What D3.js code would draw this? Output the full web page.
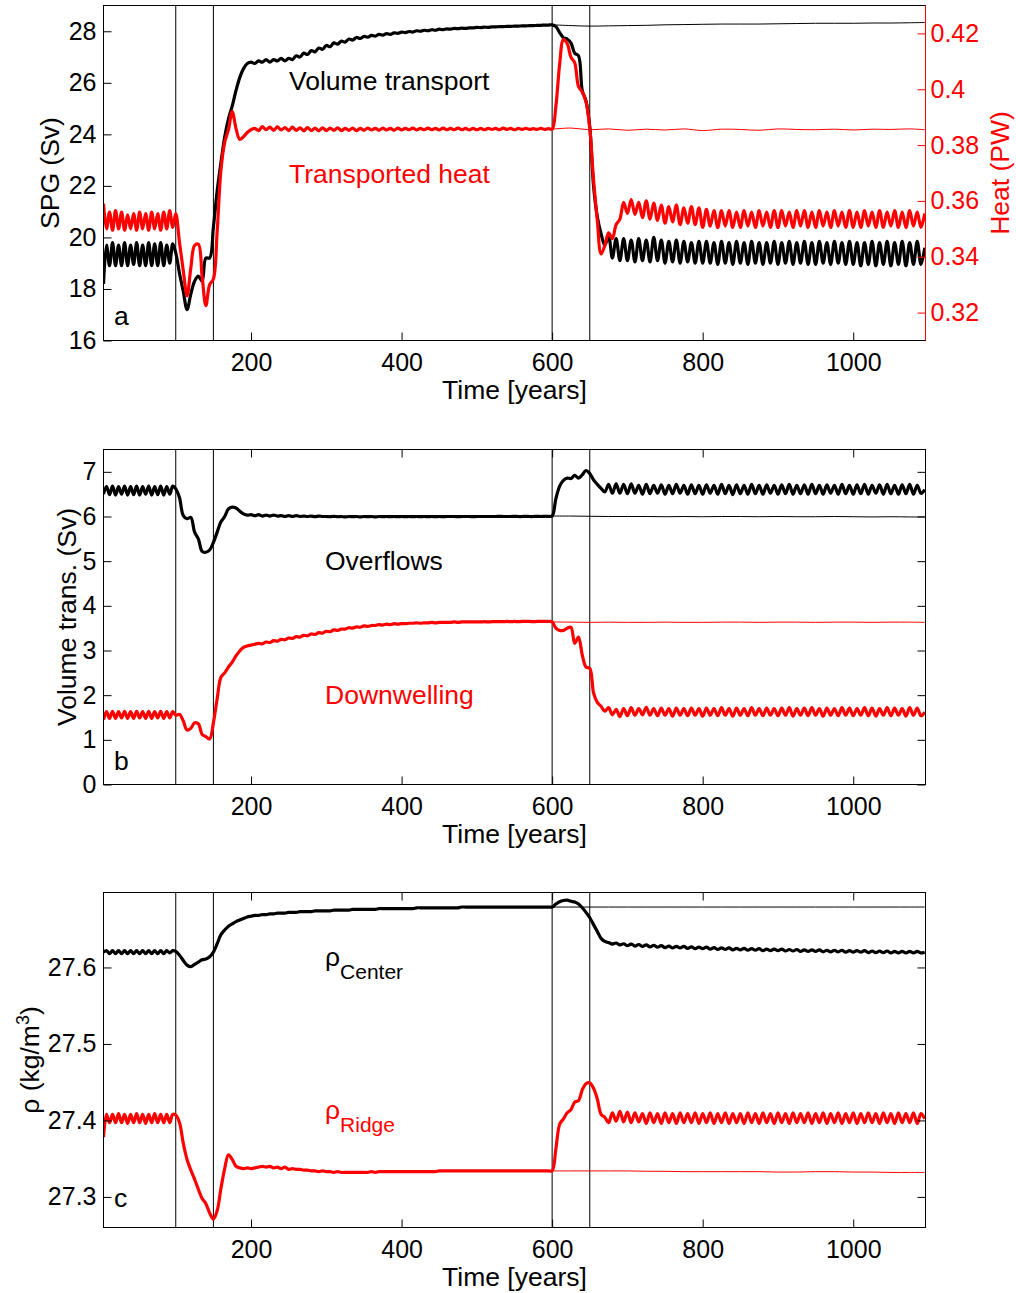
<!DOCTYPE html>
<html><head><meta charset="utf-8">
<script src="https://cdn.jsdelivr.net/npm/d3@7"></script>
<style>body{margin:0;background:#fff}</style>
</head><body><svg id="c" width="1016" height="1293"></svg>
<script>
// ---------- time axis ----------
const yearsEarly = d3.range(4, 100, 4);      // 24 samples
const yearsLate = d3.range(100, 1100, 5);    // 200 samples
const years = yearsEarly.concat(yearsLate);
const ctrlYears = [600,625,650,675,700,725,750,775,800,825,850,875,900,925,950,975,1000,1025,1050,1075,1095];
const eventYears = [100, 150, 600, 650];
const xTicks = [200, 400, 600, 800, 1000];

// ---------- panel a : SPG volume transport (Sv) ----------
const spgEarly = [18.2,19.7,18.9,19.8,18.9,19.7,18.9,19.8,18.9,19.7,18.95,19.8,18.9,19.7,18.9,19.8,18.9,19.75,18.9,19.8,18.9,19.7,19.0,19.75];
const spgLate = [
19.4,18.6,17.9,17.2,17.8,18.3,18.5,18.3,19.2,19.2,20.4,21.8,22.9,23.9,24.6,25.1,25.7,26.2,26.55,26.75,
26.8,26.75,26.85,26.8,26.9,26.8,26.9,26.85,26.95,26.85,26.95,26.9,27.05,27.0,27.15,27.1,27.25,27.2,27.35,27.3,
27.45,27.4,27.55,27.5,27.62,27.58,27.7,27.66,27.76,27.72,27.8,27.77,27.84,27.81,27.88,27.85,27.91,27.88,27.94,27.92,
27.97,27.95,27.99,27.97,28.02,28.0,28.04,28.02,28.06,28.04,28.08,28.06,28.09,28.08,28.11,28.1,28.12,28.11,28.13,28.13,
28.15,28.14,28.16,28.15,28.17,28.17,28.18,28.18,28.19,28.19,28.2,28.2,28.21,28.21,28.22,28.22,28.23,28.23,28.24,28.24,
28.25,28.18,27.95,27.75,27.7,27.55,27.15,27.05,25.7,25.3,24.3,22.0,20.8,20.15,19.7,20.05,19.2,19.95,19.1,19.95,
19.1,19.9,19.05,19.95,19.1,19.9,19.05,20.0,19.1,19.9,19.0,19.85,19.05,19.9,19.0,19.85,19.05,19.8,19.0,19.85,
19.0,19.85,19.0,19.8,18.95,19.85,19.0,19.8,18.95,19.85,19.0,19.8,18.95,19.85,19.0,19.8,18.95,19.8,19.0,19.85,
18.95,19.8,19.0,19.85,18.95,19.8,19.0,19.85,18.95,19.8,18.95,19.85,19.0,19.8,18.95,19.85,19.0,19.8,18.95,19.85,
18.95,19.8,18.9,19.8,18.95,19.85,18.9,19.8,18.95,19.85,18.9,19.8,18.95,19.85,18.9,19.8,18.95,19.85,18.95,19.6];
const spgCtrl = [28.25,28.22,28.2,28.21,28.22,28.23,28.25,28.26,28.27,28.28,28.28,28.28,28.29,28.3,28.31,28.31,28.31,28.32,28.32,28.33,28.34];
const spgTicks = [16,18,20,22,24,26,28];

// ---------- panel a : transported heat (PW) ----------
const heatEarly = [0.359,0.350,0.356,0.3495,0.3565,0.350,0.356,0.3495,0.355,0.350,0.3555,0.3495,0.356,0.350,0.3555,0.3495,0.356,0.350,0.3555,0.3495,0.356,0.350,0.3565,0.3505];
const heatLate = [
0.3555,0.345,0.335,0.326,0.336,0.344,0.3445,0.333,0.3225,0.330,0.332,0.349,0.371,0.381,0.3855,0.392,0.386,0.382,0.383,0.3845,
0.3855,0.386,0.3852,0.3866,0.3855,0.3864,0.3853,0.3865,0.3854,0.3863,0.3852,0.3864,0.3853,0.3862,0.3851,0.3863,0.3852,0.3861,0.3851,0.3862,
0.3852,0.3861,0.3853,0.3862,0.3852,0.386,0.3853,0.3861,0.3852,0.386,0.3853,0.3861,0.3854,0.386,0.3853,0.3861,0.3854,0.386,0.3853,0.3861,
0.3854,0.386,0.3855,0.3861,0.3854,0.386,0.3855,0.3861,0.3855,0.386,0.3854,0.3861,0.3855,0.386,0.3855,0.3861,0.3855,0.386,0.3854,0.386,
0.3855,0.386,0.3855,0.386,0.3856,0.386,0.3855,0.3861,0.3856,0.386,0.3855,0.386,0.3856,0.386,0.3856,0.3859,0.3856,0.386,0.3856,0.3859,
0.3857,0.394,0.409,0.4178,0.4164,0.4115,0.4095,0.401,0.399,0.3955,0.386,0.3676,0.353,0.341,0.344,0.3486,0.3465,0.3515,0.3535,0.3595,
0.3555,0.3605,0.3552,0.3595,0.354,0.360,0.3535,0.3592,0.353,0.3585,0.352,0.358,0.3525,0.3585,0.3515,0.3575,0.352,0.358,0.3515,0.3575,
0.3505,0.357,0.351,0.3565,0.3505,0.3565,0.351,0.3565,0.3505,0.356,0.3505,0.3565,0.351,0.356,0.3505,0.3565,0.351,0.356,0.3505,0.3565,
0.3505,0.3565,0.351,0.356,0.3505,0.3565,0.351,0.3565,0.3505,0.356,0.3505,0.3565,0.351,0.356,0.3505,0.3565,0.351,0.356,0.3505,0.3565,
0.3505,0.356,0.3505,0.3565,0.351,0.356,0.3505,0.3565,0.3505,0.356,0.351,0.3565,0.3505,0.356,0.3505,0.3565,0.351,0.356,0.3505,0.3555];
const heatCtrl = [0.3857,0.3861,0.3855,0.3858,0.3853,0.3857,0.3854,0.3858,0.3852,0.3857,0.3856,0.3853,0.3858,0.3856,0.3855,0.3857,0.3854,0.3857,0.3856,0.3858,0.3855];
const heatTicks = [0.32,0.34,0.36,0.38,0.40,0.42];

// ---------- panel b : overflows (Sv) ----------
const overEarly = [6.5,6.67,6.49,6.68,6.48,6.67,6.5,6.68,6.48,6.67,6.49,6.68,6.48,6.67,6.5,6.68,6.48,6.67,6.49,6.68,6.48,6.67,6.5,6.68];
const overLate = [
6.62,6.42,6.02,5.95,5.98,5.65,5.5,5.22,5.2,5.25,5.42,5.65,5.88,6.0,6.17,6.21,6.19,6.12,6.06,6.03,
6.04,6.02,6.04,6.01,6.03,6.01,6.03,6.01,6.02,6.0,6.02,6.0,6.02,6.0,6.01,6.0,6.01,5.995,6.01,6.0,
6.0,5.995,6.005,5.995,6.0,5.99,6.0,5.995,6.0,5.99,6.0,5.995,6.0,5.99,6.0,5.995,6.0,5.995,6.0,5.995,
6.0,5.995,6.0,5.995,6.0,5.995,6.0,5.995,6.0,5.995,6.0,5.995,6.0,6.0,6.0,5.995,6.0,6.0,6.0,5.995,
6.0,6.0,6.0,6.0,6.0,6.0,6.005,6.0,6.0,6.0,6.005,6.0,6.0,6.005,6.0,6.0,6.005,6.0,6.005,6.005,
6.01,6.4,6.68,6.81,6.86,6.85,6.92,6.86,6.93,7.03,6.96,6.82,6.72,6.63,6.55,6.72,6.52,6.73,6.52,6.72,
6.51,6.73,6.52,6.7,6.5,6.72,6.51,6.7,6.52,6.71,6.5,6.7,6.51,6.72,6.52,6.7,6.5,6.71,6.51,6.7,
6.5,6.71,6.52,6.7,6.5,6.72,6.51,6.7,6.49,6.71,6.51,6.7,6.5,6.72,6.51,6.7,6.5,6.71,6.52,6.7,
6.5,6.71,6.51,6.72,6.5,6.7,6.51,6.71,6.5,6.72,6.51,6.7,6.5,6.71,6.52,6.7,6.5,6.72,6.51,6.7,
6.5,6.71,6.51,6.72,6.5,6.7,6.52,6.71,6.5,6.72,6.51,6.7,6.5,6.71,6.51,6.72,6.5,6.7,6.52,6.6];
const overCtrl = [6.01,6.01,6.005,6.0,6.0,6.0,5.995,6.0,5.995,6.0,6.0,5.995,6.0,5.995,5.995,6.0,5.995,5.99,5.995,5.99,5.99];

// ---------- panel b : downwelling (Sv) ----------
const downEarly = [1.45,1.63,1.48,1.64,1.48,1.63,1.49,1.64,1.48,1.63,1.48,1.64,1.49,1.63,1.48,1.64,1.48,1.63,1.49,1.64,1.48,1.63,1.49,1.63];
const downLate = [
1.55,1.57,1.42,1.22,1.26,1.38,1.36,1.12,1.07,1.02,1.38,1.92,2.4,2.5,2.63,2.74,2.88,2.99,3.07,3.1,
3.12,3.14,3.16,3.15,3.19,3.18,3.22,3.21,3.25,3.24,3.28,3.27,3.31,3.3,3.34,3.33,3.37,3.36,3.4,3.39,
3.43,3.42,3.46,3.45,3.48,3.48,3.51,3.5,3.53,3.52,3.55,3.54,3.56,3.56,3.58,3.57,3.59,3.58,3.6,3.59,
3.6,3.6,3.61,3.61,3.62,3.61,3.62,3.62,3.63,3.62,3.63,3.63,3.63,3.63,3.64,3.63,3.64,3.64,3.64,3.64,
3.64,3.64,3.645,3.64,3.645,3.645,3.645,3.645,3.65,3.645,3.65,3.645,3.65,3.65,3.65,3.645,3.65,3.65,3.65,3.65,
3.64,3.5,3.45,3.45,3.5,3.52,3.16,3.3,2.9,2.63,2.6,2.05,1.84,1.75,1.64,1.72,1.56,1.68,1.52,1.7,
1.54,1.72,1.55,1.7,1.56,1.73,1.55,1.7,1.54,1.71,1.55,1.7,1.53,1.71,1.55,1.7,1.54,1.71,1.55,1.7,
1.53,1.71,1.55,1.7,1.54,1.72,1.55,1.7,1.53,1.71,1.55,1.7,1.54,1.72,1.55,1.7,1.54,1.71,1.55,1.7,
1.54,1.71,1.55,1.72,1.53,1.7,1.55,1.71,1.54,1.72,1.55,1.7,1.53,1.71,1.55,1.7,1.54,1.72,1.55,1.71,
1.54,1.7,1.55,1.72,1.54,1.71,1.53,1.7,1.55,1.72,1.54,1.71,1.55,1.7,1.53,1.72,1.55,1.71,1.54,1.62];
const downCtrl = [3.64,3.635,3.63,3.635,3.63,3.63,3.635,3.63,3.63,3.635,3.635,3.63,3.635,3.635,3.63,3.635,3.635,3.63,3.635,3.635,3.63];
const transTicks = [0,1,2,3,4,5,6,7];

// ---------- panel c : density (kg/m3) ----------
const centerEarly = [27.62,27.622,27.618,27.622,27.618,27.622,27.618,27.622,27.618,27.622,27.618,27.622,27.618,27.622,27.618,27.622,27.618,27.622,27.618,27.622,27.618,27.622,27.619,27.622];
const centerLate = [
27.621,27.616,27.609,27.603,27.601,27.604,27.607,27.61,27.611,27.614,27.62,27.631,27.643,27.649,27.654,27.657,27.66,27.662,27.664,27.666,
27.667,27.668,27.668,27.669,27.669,27.67,27.67,27.671,27.671,27.671,27.672,27.672,27.672,27.673,27.673,27.673,27.673,27.674,27.674,27.674,
27.674,27.674,27.675,27.675,27.675,27.675,27.675,27.676,27.676,27.676,27.676,27.676,27.676,27.676,27.677,27.677,27.677,27.677,27.677,27.677,
27.677,27.677,27.677,27.677,27.678,27.678,27.678,27.678,27.678,27.678,27.678,27.678,27.678,27.678,27.678,27.678,27.679,27.679,27.679,27.679,
27.679,27.679,27.679,27.679,27.679,27.679,27.679,27.679,27.679,27.679,27.679,27.679,27.679,27.679,27.679,27.679,27.679,27.679,27.679,27.679,
27.679,27.683,27.686,27.6875,27.688,27.6865,27.6855,27.683,27.678,27.672,27.665,27.656,27.647,27.638,27.634,27.6325,27.6305,27.632,27.6295,27.631,
27.6285,27.6305,27.628,27.63,27.6275,27.6295,27.627,27.629,27.6265,27.6285,27.626,27.628,27.6255,27.6275,27.6255,27.6275,27.625,27.627,27.6245,27.6265,
27.6245,27.6265,27.624,27.626,27.6235,27.6255,27.6235,27.6255,27.623,27.625,27.623,27.625,27.6225,27.6245,27.6225,27.6245,27.622,27.624,27.622,27.624,
27.622,27.624,27.6215,27.6235,27.6215,27.6235,27.621,27.623,27.621,27.623,27.621,27.623,27.6205,27.6225,27.6205,27.6225,27.6205,27.6225,27.62,27.622,
27.62,27.622,27.62,27.622,27.6195,27.6215,27.6195,27.6215,27.6195,27.6215,27.619,27.621,27.619,27.621,27.619,27.621,27.619,27.621,27.619,27.62];
const centerCtrl = [27.679,27.679,27.679,27.679,27.679,27.679,27.679,27.679,27.679,27.679,27.679,27.679,27.679,27.679,27.679,27.679,27.679,27.679,27.679,27.679,27.679];
const ridgeEarly = [27.378,27.408,27.397,27.408,27.397,27.409,27.397,27.408,27.396,27.408,27.397,27.409,27.397,27.408,27.396,27.408,27.397,27.409,27.397,27.408,27.397,27.408,27.397,27.408];
const ridgeLate = [
27.407,27.397,27.37,27.349,27.335,27.323,27.31,27.298,27.291,27.279,27.271,27.282,27.311,27.337,27.355,27.349,27.34,27.338,27.337,27.338,
27.337,27.338,27.339,27.34,27.339,27.34,27.338,27.339,27.337,27.339,27.336,27.337,27.336,27.336,27.335,27.335,27.334,27.334,27.333,27.334,
27.333,27.333,27.332,27.333,27.332,27.332,27.332,27.332,27.332,27.332,27.332,27.332,27.333,27.332,27.333,27.333,27.333,27.333,27.333,27.333,
27.333,27.333,27.333,27.333,27.333,27.333,27.333,27.333,27.333,27.333,27.334,27.334,27.334,27.334,27.334,27.334,27.334,27.334,27.334,27.334,
27.334,27.334,27.334,27.334,27.334,27.334,27.334,27.334,27.334,27.334,27.334,27.334,27.334,27.334,27.334,27.334,27.334,27.334,27.334,27.334,
27.334,27.363,27.395,27.402,27.41,27.414,27.424,27.426,27.44,27.448,27.449,27.442,27.428,27.408,27.404,27.397,27.41,27.399,27.412,27.398,
27.411,27.397,27.41,27.398,27.409,27.396,27.41,27.397,27.409,27.396,27.41,27.397,27.409,27.396,27.41,27.397,27.409,27.397,27.41,27.396,
27.409,27.397,27.41,27.396,27.409,27.397,27.41,27.396,27.409,27.397,27.409,27.396,27.41,27.397,27.409,27.396,27.41,27.397,27.409,27.396,
27.41,27.397,27.409,27.396,27.41,27.397,27.409,27.397,27.41,27.396,27.409,27.397,27.41,27.396,27.409,27.397,27.41,27.396,27.409,27.397,
27.41,27.396,27.409,27.397,27.41,27.397,27.409,27.396,27.41,27.397,27.409,27.396,27.41,27.397,27.409,27.397,27.41,27.396,27.409,27.402];
const ridgeCtrl = [27.334,27.334,27.334,27.334,27.334,27.3335,27.3335,27.333,27.333,27.333,27.333,27.333,27.3325,27.3325,27.333,27.333,27.3325,27.3325,27.332,27.332,27.332];
const rhoTicks = [27.3,27.4,27.5,27.6];

// ---------- drawing ----------
const FONT = '"Liberation Sans", Arial, Helvetica, sans-serif';
const TICK_FS = 25, LAB_FS = 26.5;
const RED = '#ff0000';
const svg = d3.select('#c');
const defs = svg.append('defs');
const X0 = 103.5, X1 = 925.5;
const x = d3.scaleLinear().domain([4, 1096]).range([X0, X1]);

const panels = [
  {id:'a', top:5.5, bottom:340.5, domain:[16,29], ticks:spgTicks, fmt:d=>String(d),
   black:spgEarly.concat(spgLate), red:heatEarly.concat(heatLate), blackCtrl:spgCtrl, redCtrl:heatCtrl,
   redDomain:[0.31,0.43], redTicks:heatTicks, ylabel:'SPG (Sv)', ylabelX:59, letterY:325},
  {id:'b', top:449.5, bottom:784.5, domain:[0,7.5], ticks:transTicks, fmt:d=>String(d),
   black:overEarly.concat(overLate), red:downEarly.concat(downLate), blackCtrl:overCtrl, redCtrl:downCtrl,
   ylabel:'Volume trans. (Sv)', ylabelX:75.5, letterY:770},
  {id:'c', top:892.5, bottom:1227.5, domain:[27.26,27.698], ticks:rhoTicks, fmt:d=>d.toFixed(1),
   black:centerEarly.concat(centerLate), red:ridgeEarly.concat(ridgeLate), blackCtrl:centerCtrl, redCtrl:ridgeCtrl,
   ylabel:null, ylabelX:39, letterY:1207}
];

function styleAxis(g, color, fs) {
  g.select('.domain').remove();
  g.attr('font-size', fs).attr('font-family', FONT).attr('color', color);
  g.selectAll('line').attr('stroke-width', 1);
}

panels.forEach(p => {
  const g = svg.append('g');
  const y = d3.scaleLinear().domain(p.domain).range([p.bottom, p.top]);
  const yR = p.redDomain ? d3.scaleLinear().domain(p.redDomain).range([p.bottom, p.top]) : y;
  defs.append('clipPath').attr('id', 'clip' + p.id).append('rect')
    .attr('x', X0).attr('y', p.top).attr('width', X1 - X0).attr('height', p.bottom - p.top);
  const plot = g.append('g').attr('clip-path', `url(#clip${p.id})`);

  plot.selectAll('line.ev').data(eventYears).join('line').attr('class', 'ev')
    .attr('x1', d => x(d)).attr('x2', d => x(d)).attr('y1', p.top).attr('y2', p.bottom)
    .attr('stroke', '#000').attr('stroke-width', 1);

  const ln = (xs, sc, curve) => d3.line().x((d, i) => x(xs[i])).y(d => sc(d)).curve(curve || d3.curveLinear);
  const smooth = d3.curveCatmullRom.alpha(0.5);
  plot.append('path').datum(p.blackCtrl).attr('d', ln(ctrlYears, y, smooth))
    .attr('fill', 'none').attr('stroke', '#000').attr('stroke-width', 1);
  plot.append('path').datum(p.redCtrl).attr('d', ln(ctrlYears, yR, smooth))
    .attr('fill', 'none').attr('stroke', RED).attr('stroke-width', 1);
  plot.append('path').datum(p.black).attr('d', ln(years, y, smooth))
    .attr('fill', 'none').attr('stroke', '#000').attr('stroke-width', 3.2).attr('stroke-linejoin', 'round');
  plot.append('path').datum(p.red).attr('d', ln(years, yR, smooth))
    .attr('fill', 'none').attr('stroke', RED).attr('stroke-width', 3.2).attr('stroke-linejoin', 'round');

  // axes
  const gl = g.append('g').attr('transform', `translate(${X0},0)`)
    .call(d3.axisLeft(y).tickValues(p.ticks).tickFormat(p.fmt).tickSize(-8).tickPadding(7));
  styleAxis(gl, '#000', TICK_FS);
  const gb = g.append('g').attr('transform', `translate(0,${p.bottom})`)
    .call(d3.axisBottom(x).tickValues(xTicks).tickFormat(d => String(d)).tickSize(-8));
  styleAxis(gb, '#000', TICK_FS);
  gb.selectAll('text').attr('y', 30).attr('dy', null);

  if (p.redDomain) {
    const gr = g.append('g').attr('transform', `translate(${X1},0)`)
      .call(d3.axisRight(yR).tickValues(p.redTicks).tickFormat(d => String(+d.toFixed(2))).tickSize(-8).tickPadding(5));
    styleAxis(gr, RED, TICK_FS);
  } else {
    const gt = g.append('g').attr('transform', `translate(0,${p.top})`)
      .call(d3.axisTop(x).tickValues(xTicks).tickFormat(() => '').tickSize(-8));
    styleAxis(gt, '#000', TICK_FS);
    const gr = g.append('g').attr('transform', `translate(${X1},0)`)
      .call(d3.axisRight(y).tickValues(p.ticks).tickFormat(() => '').tickSize(-8));
    styleAxis(gr, '#000', TICK_FS);
  }

  g.append('rect').attr('x', X0).attr('y', p.top).attr('width', X1 - X0).attr('height', p.bottom - p.top)
    .attr('fill', 'none').attr('stroke', '#000').attr('stroke-width', 1);
  if (p.redDomain) {
    g.append('line').attr('x1', X1).attr('x2', X1).attr('y1', p.top).attr('y2', p.bottom)
      .attr('stroke', RED).attr('stroke-width', 1);
  }

  // labels
  g.append('text').attr('x', (X0 + X1) / 2).attr('y', p.bottom + 58.5).attr('text-anchor', 'middle')
    .attr('font-family', FONT).attr('font-size', LAB_FS).text('Time [years]');
  const yl = g.append('text').attr('transform', `translate(${p.ylabelX},${p.id === 'c' ? 1060 : (p.top + p.bottom) / 2}) rotate(-90)`)
    .attr('text-anchor', 'middle').attr('font-family', FONT).attr('font-size', LAB_FS);
  if (p.ylabel) yl.text(p.ylabel);
  else {
    yl.append('tspan').text('ρ (kg/m');
    yl.append('tspan').attr('dy', -10).attr('font-size', 18).text('3');
    yl.append('tspan').attr('dy', 10).text(')');
  }
  g.append('text').attr('x', 114).attr('y', p.letterY).attr('font-family', FONT).attr('font-size', LAB_FS).text(p.id);
});

// heat axis label
svg.append('text').attr('transform', 'translate(1009,173) rotate(-90)').attr('text-anchor', 'middle')
  .attr('font-family', FONT).attr('font-size', LAB_FS).attr('fill', RED).text('Heat (PW)');

// annotations
const notes = [
  {t:'Volume transport', x:289, y:90, c:'#000'},
  {t:'Transported heat', x:289, y:183, c:RED},
  {t:'Overflows', x:325, y:570, c:'#000'},
  {t:'Downwelling', x:325, y:704, c:RED}
];
svg.selectAll('text.note').data(notes).join('text').attr('class', 'note')
  .attr('x', d => d.x).attr('y', d => d.y).attr('fill', d => d.c)
  .attr('font-family', FONT).attr('font-size', LAB_FS).text(d => d.t);
const rhoNotes = [
  {sub:'Center', x:325, y:965.5, c:'#000'},
  {sub:'Ridge', x:325, y:1118.5, c:RED}
];
rhoNotes.forEach(d => {
  const t = svg.append('text').attr('x', d.x).attr('y', d.y).attr('fill', d.c)
    .attr('font-family', FONT).attr('font-size', LAB_FS);
  t.append('tspan').text('ρ');
  t.append('tspan').attr('dy', 13).attr('font-size', 21).text(d.sub);
});
</script>
</body></html>
